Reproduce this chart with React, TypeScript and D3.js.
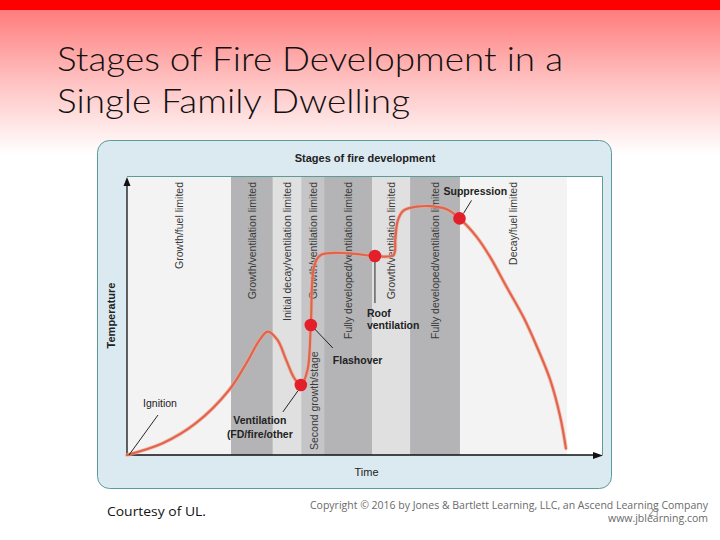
import { useMemo } from 'react';
import * as d3 from 'd3';

// Stage bands along the time axis (0..100 time units)
const bandEdges = [0, 21.9, 30.7, 36.7, 41.5, 51.6, 59.6, 70.1, 92.6, 100];
const bandLabels = [
	'Growth/fuel limited',
	'Growth/ventilation limited',
	'Initial decay/ventilation limited',
	'Growth/ventilation limited',
	'Fully developed/ventilation limited',
	'Growth/ventilation limited',
	'Fully developed/ventilation limited',
	'Decay/fuel limited',
	'',
];
const bandShades = ['#f3f3f3', '#b4b4b6', '#e0e0e1', '#c5c5c7', '#b4b4b6', '#e0e0e1', '#b4b4b6', '#f3f3f3', '#ffffff'];

// Temperature curve
const curveTime = [0, 7.5, 14.5, 21.5, 25.1, 27.9, 29.6, 31.7, 33.5, 35.2, 36.6, 38.0, 38.7, 39.4, 40.8, 46.8, 52.2, 56.1, 56.5, 57.0, 58.2, 61.0, 63.8, 67.3, 70.0, 73.6, 76.4, 79.9, 83.4, 86.3, 89.1, 91.2, 92.4];
const curveTemp = [0, 4.2, 11.4, 23.3, 32.8, 41.2, 44.2, 41.2, 34.1, 27.6, 25.1, 30.5, 46.6, 67.5, 71.7, 72.3, 71.3, 71.7, 77.5, 84.0, 87.6, 89.0, 89.2, 88.1, 84.8, 78.2, 71.1, 60.3, 49.6, 38.8, 26.9, 13.7, 2.4];

// Events marked with red dots
const eventNames = ['Ventilation', 'Flashover', 'Roof ventilation', 'Suppression'];
const eventTime = [36.6, 38.7, 52.2, 70.0];
const eventTemp = [25.1, 46.6, 71.3, 84.8];

const FONT = '"Liberation Sans", Arial, sans-serif';

// label layout per event: leader offsets and text lines, relative to the dot
const eventLayout: Record<string, { leader: number[]; tx: number; anchor: string; lines: { dy: number; text: string }[] }> = {
	Ventilation: { leader: [-3, 6, -18, 27], tx: -41, anchor: 'middle', lines: [{ dy: 39.5, text: 'Ventilation' }, { dy: 53, text: '(FD/fire/other' }] },
	Flashover: { leader: [2, 2, 22, 23], tx: 22, anchor: 'start', lines: [{ dy: 39, text: 'Flashover' }] },
	'Roof ventilation': { leader: [0, 0, 0, 47], tx: -8, anchor: 'start', lines: [{ dy: 61, text: 'Roof' }, { dy: 73, text: 'ventilation' }] },
	Suppression: { leader: [4, -5, 12, -18], tx: -16, anchor: 'start', lines: [{ dy: -23, text: 'Suppression' }] },
};

export default function App() {
	const x = useMemo(() => d3.scaleLinear().domain([0, 100]).range([127, 602]), []);
	const y = useMemo(() => d3.scaleLinear().domain([0, 100]).range([455, 176]), []);

	const line = useMemo(
		() =>
			d3
				.line<number>()
				.x((_, i) => x(curveTime[i]))
				.y((d) => y(d))
				.curve(d3.curveCatmullRom.alpha(0.5)),
		[x, y]
	);

	const [x0, x1] = x.range();
	const [y0, y1] = y.range();

	return (
		<svg width={720} height={540} style={{ position: 'absolute', left: 0, top: 0 }} fontFamily={FONT}>
			<defs>
				<linearGradient id="bg" x1="0" y1="0" x2="0" y2="1">
					<stop offset="0" stopColor="#ff7b7b" />
					<stop offset="0.5" stopColor="#ffc2c2" />
					<stop offset="1" stopColor="#ffffff" />
				</linearGradient>
			</defs>
			<rect x={0} y={0} width={720} height={540} fill="#ffffff" />
			<rect x={0} y={9} width={720} height={146} fill="url(#bg)" />
			<rect x={0} y={0} width={720} height={10} fill="#ff0000" />

			<g fontFamily='Lato, "Open Sans", sans-serif' fontWeight={300} fontSize={34} fill="#111">
				<text x={57} y={71} textLength={506} lengthAdjust="spacingAndGlyphs">Stages of Fire Development in a</text>
				<text x={57} y={113} textLength={353} lengthAdjust="spacingAndGlyphs">Single Family Dwelling</text>
			</g>

			{/* panel */}
			<rect x={97.5} y={140.5} width={514} height={348} rx={12} fill="#dbeaf0" stroke="#5b9c98" strokeWidth={1} />
			<text x={365} y={162} textAnchor="middle" fontSize={11} fontWeight="bold" fill="#222">Stages of fire development</text>

			{/* stage bands */}
			{bandShades.map((c, i) => (
				<rect key={i} x={x(bandEdges[i])} y={y1} width={x(bandEdges[i + 1]) - x(bandEdges[i])} height={y0 - y1} fill={c} />
			))}
			<path d={`M${x0},${y1 + 0.5}H${x1 + 0.5}V${y0}`} fill="none" stroke="#5b9c98" strokeWidth={1} />
			{bandLabels.map((label, i) => {
				const cx = (x(bandEdges[i]) + x(bandEdges[i + 1])) / 2;
				return label ? (
					<text key={i} transform={`translate(${cx},182) rotate(-90)`} textAnchor="end" dominantBaseline="central" fontSize={10.5} fill="#3a3a3a">
						{label}
					</text>
				) : null;
			})}
			<text transform={`translate(${(x(bandEdges[3]) + x(bandEdges[4])) / 2 + 1},450) rotate(-90)`} textAnchor="start" dominantBaseline="central" fontSize={10.5} fill="#3a3a3a">
				Second growth/stage
			</text>

			{/* axes */}
			<path d={`M${x0},${y0}V${y1 + 6}M${x0},${y0}H${x1 - 7}`} stroke="#111" strokeWidth={1.3} fill="none" />
			<path d={`M${x0},${y1 + 1}l-3.5,9h7z`} fill="#111" />
			<path d={`M${x1 + 1},${y0 + 0.5}l-10,-3.5v7z`} fill="#111" />
			<text transform={`translate(115,${(y0 + y1) / 2}) rotate(-90)`} textAnchor="middle" fontSize={11} fontWeight="bold" fill="#222">Temperature</text>
			<text x={(x0 + x1) / 2 + 2} y={476} textAnchor="middle" fontSize={11} fill="#222">Time</text>

			{/* curve */}
			<path d={line(curveTemp) ?? ''} fill="none" stroke="#f2a896" strokeWidth={4} strokeLinecap="round" opacity={0.6} />
			<path d={line(curveTemp) ?? ''} fill="none" stroke="#e0654c" strokeWidth={2.2} strokeLinecap="round" />

			{/* ignition annotation */}
			<line x1={x(curveTime[0]) + 2} y1={y(curveTemp[0])} x2={x(curveTime[0]) + 31} y2={y(curveTemp[0]) - 40} stroke="#111" strokeWidth={0.9} />
			<text x={x(curveTime[0]) + 33} y={y(curveTemp[0]) - 48} textAnchor="middle" fontSize={10.5} fill="#222">Ignition</text>

			{/* events */}
			{eventNames.map((name, i) => {
				const cx = x(eventTime[i]);
				const cy = y(eventTemp[i]);
				const l = eventLayout[name];
				return (
					<g key={name}>
						<line x1={cx + l.leader[0]} y1={cy + l.leader[1]} x2={cx + l.leader[2]} y2={cy + l.leader[3]} stroke="#111" strokeWidth={0.9} />
						<circle cx={cx} cy={cy} r={6.3} fill="#e3202a" />
						{l.lines.map((ln) => (
							<text key={ln.text} x={cx + l.tx} y={cy + ln.dy} textAnchor={l.anchor} fontSize={10.5} fontWeight="bold" fill="#222">
								{ln.text}
							</text>
						))}
					</g>
				);
			})}

			{/* credits */}
			<text x={107} y={516} fontFamily='"Open Sans", sans-serif' fontSize={12.5} fill="#111" textLength={99} lengthAdjust="spacingAndGlyphs">Courtesy of UL.</text>
			<g fontFamily='"Open Sans", sans-serif' fontSize={10.5} fill="#6a6a6a" textAnchor="end">
				<text x={708} y={509} textLength={398} lengthAdjust="spacingAndGlyphs">Copyright © 2016 by Jones &amp; Bartlett Learning, LLC, an Ascend Learning Company</text>
				<text x={708} y={522}>www.jblearning.com</text>
			</g>
			<text x={654} y={516} textAnchor="middle" fontFamily='"Open Sans", sans-serif' fontSize={10} fill="#8a8a8a">21</text>
		</svg>
	);
}
